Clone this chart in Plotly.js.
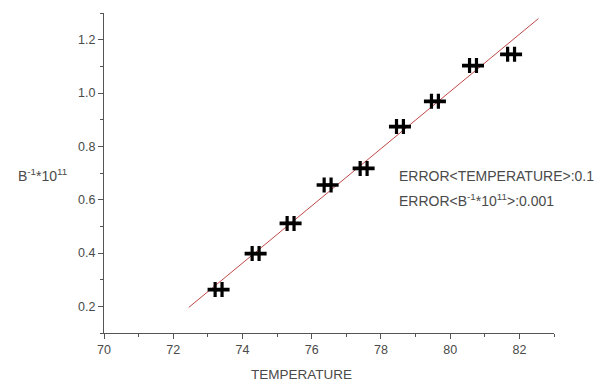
<!DOCTYPE html>
<html>
<head>
<meta charset="utf-8">
<script src="https://cdn.plot.ly/plotly-3.0.1.min.js"></script>
<style>html,body{margin:0;padding:0;background:#fff;}#chart{width:598px;height:383px;}</style>
</head>
<body>
<div id="chart"></div>
<script>
// Data
var temperature = [73.31, 74.38, 75.39, 76.46, 77.50, 78.55, 79.56, 80.66, 81.76];
var bInv = [0.263, 0.398, 0.511, 0.655, 0.717, 0.874, 0.969, 1.103, 1.145];
var errTemp = [0.1, 0.1, 0.1, 0.1, 0.1, 0.1, 0.1, 0.1, 0.1];
var errB = [0.001, 0.001, 0.001, 0.001, 0.001, 0.001, 0.001, 0.001, 0.001];
var fitX = [72.45, 82.55];
var fitY = [0.196, 1.279];
var xTicks = [70, 72, 74, 76, 78, 80, 82];
var yTicks = [0.2, 0.4, 0.6, 0.8, 1.0, 1.2];

var textColor = '#4a4a4a';
var fontFam = 'Liberation Sans, Arial, sans-serif';

var traces = [
  {
    x: fitX, y: fitY, type: 'scatter', mode: 'lines',
    line: {color: '#c04848', width: 1}, hoverinfo: 'skip'
  },
  {
    x: temperature, y: bInv, type: 'scatter', mode: 'markers',
    marker: {size: 2, color: '#000'},
    error_x: {type: 'data', array: errTemp, visible: true, color: '#000', thickness: 3.2, width: 7.5},
    error_y: {type: 'data', array: errB, visible: true, color: '#000', thickness: 3.2, width: 11}
  }
];

var layout = {
  width: 598, height: 383,
  margin: {l: 103.5, r: 44, t: 13, b: 50},
  paper_bgcolor: '#fff', plot_bgcolor: '#fff',
  showlegend: false,
  font: {family: fontFam, size: 12, color: textColor},
  xaxis: {
    range: [70, 83], tickvals: xTicks, ticktext: xTicks.map(String),
    showgrid: false, zeroline: false, showline: true, linecolor: '#555', linewidth: 1,
    ticks: 'outside', ticklen: 5, tickcolor: '#555', tickwidth: 1,
    minor: {dtick: 1, tick0: 70, ticks: 'outside', ticklen: 3, tickcolor: '#555', showgrid: false},
    tickfont: {size: 12.5, color: textColor, family: fontFam}
  },
  yaxis: {
    range: [0.1, 1.3], tickvals: yTicks, ticktext: yTicks.map(function(v){return v.toFixed(1);}),
    showgrid: false, zeroline: false, showline: true, linecolor: '#555', linewidth: 1,
    ticks: 'outside', ticklen: 5, tickcolor: '#555', tickwidth: 1,
    minor: {dtick: 0.1, tick0: 0.1, ticks: 'outside', ticklen: 3, tickcolor: '#555', showgrid: false},
    tickfont: {size: 12.5, color: textColor, family: fontFam}
  },
  annotations: [
    {xref: 'paper', yref: 'paper', x: -0.196, y: 0.494, xanchor: 'left', yanchor: 'middle',
     text: 'B<sup>-1</sup>*10<sup>11</sup>', showarrow: false, font: {size: 14, color: textColor}},
    {xref: 'paper', yref: 'paper', x: 0.438, y: -0.13, xanchor: 'center', yanchor: 'middle',
     text: 'TEMPERATURE', showarrow: false, font: {size: 13.5, color: textColor}},
    {xref: 'paper', yref: 'paper', x: 0.65, y: 0.491, xanchor: 'left', yanchor: 'middle',
     text: 'ERROR&lt;TEMPERATURE&gt;:0.1', showarrow: false, font: {size: 14, color: textColor}},
    {xref: 'paper', yref: 'paper', x: 0.65, y: 0.416, xanchor: 'left', yanchor: 'middle',
     text: 'ERROR&lt;B<sup>-1</sup>*10<sup>11</sup>&gt;:0.001', showarrow: false, font: {size: 14, color: textColor}}
  ]
};

Plotly.newPlot('chart', traces, layout, {displayModeBar: false, staticPlot: true});
</script>
</body>
</html>
